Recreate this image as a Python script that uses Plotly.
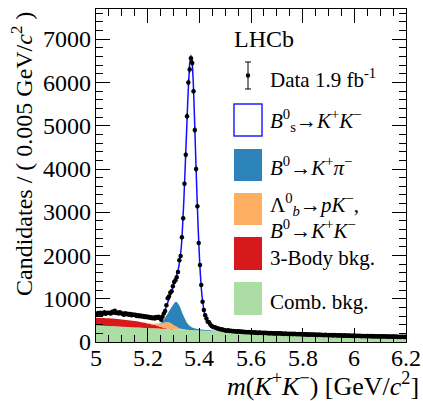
import numpy as np
import plotly.graph_objects as go

# ---------------- data ----------------
bin_low = 5.0
bin_width = 0.005
counts = [
    642, 668, 651, 675, 646, 660, 688, 652, 670, 679,
    672, 660, 698, 684, 722, 668, 681, 657, 689, 664,
    651, 632, 666, 640, 655, 628, 645, 617, 636, 622,
    628, 604, 621, 598, 611, 587, 603, 579, 596, 572,
    585, 561, 574, 552, 568, 545, 579, 558, 585, 548,
    515, 585, 660, 718, 850, 1010, 1050, 1140, 1175, 1290,
    1390, 1430, 1500, 1620, 1890, 1990, 2420, 2860, 3660, 4330,
    5220, 6000, 6300, 6560, 6450, 5800, 4900, 4000, 3140, 2290,
    1780, 1320, 930, 740, 620, 545, 470, 455, 405, 372,
    352, 340, 333, 318, 312, 300, 296, 287, 282, 270,
    268, 262, 270, 255, 258, 248, 252, 241, 247, 238,
    246, 236, 240, 231, 238, 227, 233, 224, 230, 221,
    228, 219, 225, 214, 222, 210, 218, 215, 209, 216,
    206, 212, 204, 210, 199, 207, 201, 196, 205, 198,
    200, 194, 203, 190, 198, 186, 195, 191, 184, 193,
    187, 190, 180, 188, 183, 177, 186, 179, 184, 175,
    181, 174, 179, 170, 177, 168, 175, 172, 165, 173,
    168, 163, 171, 160, 167, 164, 158, 166, 161, 157,
    162, 156, 160, 152, 159, 155, 149, 157, 151, 154,
    150, 147, 154, 145, 151, 142, 149, 146, 140, 148,
    146, 139, 144, 137, 143, 135, 141, 138, 133, 140,
    137, 134, 139, 130, 136, 128, 134, 131, 126, 133,
    130, 127, 133, 125, 131, 122, 128, 126, 121, 129,
    126, 120, 125, 118, 124, 116, 122, 119, 114, 121,
]

fit_x = [
    5.00, 5.05, 5.10, 5.15, 5.20, 5.22, 5.24, 5.25, 5.26, 5.27,
    5.28, 5.29, 5.30, 5.31, 5.32, 5.325, 5.33, 5.335, 5.34, 5.345,
    5.35, 5.355, 5.36, 5.365, 5.37, 5.375, 5.38, 5.385, 5.39, 5.395,
    5.40, 5.405, 5.41, 5.415, 5.42, 5.43, 5.44, 5.46, 5.48, 5.50,
    5.55, 5.60, 5.70, 5.80, 5.90, 6.00, 6.10, 6.20,
]
comb_bkg = [
    390, 372, 355, 338, 322, 316, 311, 308, 305, 302,
    299, 297, 294, 291, 288, 287, 286, 284, 283, 282,
    280, 279, 278, 276, 275, 274, 272, 271, 270, 268,
    267, 266, 264, 263, 262, 259, 257, 252, 248, 243,
    231, 220, 200, 182, 165, 150, 137, 124,
]
three_body = [
    170, 176, 166, 145, 108, 86, 59, 44, 28, 14,
    5, 1, 0, 0, 0, 0, 0, 0, 0, 0,
    0, 0, 0, 0, 0, 0, 0, 0, 0, 0,
    0, 0, 0, 0, 0, 0, 0, 0, 0, 0,
    0, 0, 0, 0, 0, 0, 0, 0,
]
lb_b0kk = [
    0, 0, 0, 2, 8, 20, 50, 75, 108, 138,
    150, 135, 100, 65, 38, 28, 20, 14, 10, 7,
    5, 3, 2, 1, 0, 0, 0, 0, 0, 0,
    0, 0, 0, 0, 0, 0, 0, 0, 0, 0,
    0, 0, 0, 0, 0, 0, 0, 0,
]
b0_kpi = [
    0, 0, 0, 0, 0, 0, 3, 12, 50, 130,
    230, 345, 480, 575, 540, 495, 430, 360, 295, 235,
    180, 140, 108, 85, 68, 56, 47, 40, 35, 31,
    28, 25, 23, 21, 19, 16, 13, 9, 6, 4,
    2, 1, 0, 0, 0, 0, 0, 0,
]
bs_kk = [
    95, 115, 120, 130, 140, 140, 145, 150, 165, 200,
    270, 340, 430, 560, 860, 1120, 1450, 2000, 2680, 3480,
    4300, 5120, 5750, 6150, 6200, 5850, 5100, 4150, 3250, 2400,
    1720, 1180, 800, 560, 390, 220, 130, 65, 38, 24,
    10, 5, 2, 1, 0, 0, 0, 0,
]

x_ticks = [5.0, 5.2, 5.4, 5.6, 5.8, 6.0, 6.2]
x_ticktext = ["5", "5.2", "5.4", "5.6", "5.8", "6", "6.2"]
y_ticks = [0, 1000, 2000, 3000, 4000, 5000, 6000, 7000]
y_ticktext = ["0", "1000", "2000", "3000", "4000", "5000", "6000", "7000"]

# ---------------- derived ----------------
counts_a = np.array(counts, dtype=float)
centres = bin_low + bin_width * (np.arange(len(counts)) + 0.5)
errs = np.sqrt(counts_a)

s1 = np.array(comb_bkg, float)
s2 = s1 + np.array(three_body, float)
s3 = s2 + np.array(lb_b0kk, float)
s4 = s3 + np.array(b0_kpi, float)
total = s4 + np.array(bs_kk, float)

GREEN = "#abdda4"
RED = "#d7191c"
ORANGE = "#fdae61"
BLUE = "#2b83ba"
LINE = "#1010ff"
FONT = "Liberation Serif, Times New Roman, serif"

fig = go.Figure()
for ys, col, fill in [(s1, GREEN, "tozeroy"), (s2, RED, "tonexty"),
                      (s3, ORANGE, "tonexty"), (s4, BLUE, "tonexty")]:
    fig.add_trace(go.Scatter(x=fit_x, y=ys, mode="lines", fill=fill,
                             fillcolor=col, line=dict(width=0, shape="spline", color=col),
                             showlegend=False, hoverinfo="skip"))
fig.add_trace(go.Scatter(x=fit_x, y=total, mode="lines",
                         line=dict(color=LINE, width=1.5, shape="spline"),
                         showlegend=False))
fig.add_trace(go.Scatter(x=centres, y=counts_a, mode="markers",
                         marker=dict(color="black", size=4.5),
                         error_y=dict(type="data", array=errs, width=0,
                                      thickness=1, color="black"),
                         showlegend=False))

# ---------------- layout helpers (pixel -> paper) ----------------
L, R, T, B = 96, 406, 9, 342


def px(x, y):
    return (x - L) / (R - L), (B - y) / (B - T)


shapes = []


def rect(x0, y0, x1, y1, fill, line=None, lw=0):
    a0, b0 = px(x0, y1)
    a1, b1 = px(x1, y0)
    shapes.append(dict(type="rect", xref="paper", yref="paper", x0=a0, x1=a1,
                       y0=b0, y1=b1, fillcolor=fill,
                       line=dict(color=line or fill, width=lw)))


def seg(x0, y0, x1, y1, w=1):
    a0, b0 = px(x0, y0)
    a1, b1 = px(x1, y1)
    shapes.append(dict(type="line", xref="paper", yref="paper", x0=a0, x1=a1,
                       y0=b0, y1=b1, line=dict(color="black", width=w)))


# data legend symbol
seg(248, 62, 248, 89)
seg(245, 62, 251, 62)
seg(245, 89, 251, 89)
c0 = px(245.8, 73.3)
c1 = px(250.2, 77.7)
shapes.append(dict(type="circle", xref="paper", yref="paper", x0=c0[0], x1=c1[0],
                   y0=c1[1], y1=c0[1], fillcolor="black", line=dict(width=0)))

rect(234, 104, 262, 136, "white", line="#2222ff", lw=1.5)
rect(234, 149, 262, 181, BLUE)
rect(234, 193, 262, 225, ORANGE)
rect(234, 237, 262, 270, RED)
rect(234, 282, 262, 315, GREEN)

annotations = []


def text(x, y, s, size=21, xanchor="left", yanchor="middle", angle=0):
    a, b = px(x, y)
    annotations.append(dict(xref="paper", yref="paper", x=a, y=b, text=s,
                            showarrow=False, xanchor=xanchor, yanchor=yanchor,
                            textangle=angle,
                            font=dict(family=FONT, size=size, color="black")))


text(232, 39, "LHCb", size=24)
text(268, 78, "Data 1.9 fb<sup>-1</sup>")
text(268, 121, "<i>B</i><sup>0</sup><sub>s</sub>→<i>K</i><sup>+</sup><i>K</i><sup>−</sup>")
text(268, 166, "<i>B</i><sup>0</sup>→<i>K</i><sup>+</sup><i>π</i><sup>−</sup>")
text(268, 204, "Λ<sup>0</sup><sub><i>b</i></sub>→<i>pK</i><sup>−</sup>,")
text(268, 229, "<i>B</i><sup>0</sup>→<i>K</i><sup>+</sup><i>K</i><sup>−</sup>")
text(268, 258, "3-Body bkg.")
text(268, 302, "Comb. bkg.")
text(22, 10, "Candidates / ( 0.005 GeV/<i>c</i><sup>2</sup> )", size=24,
     xanchor="center", yanchor="top", angle=-90)
text(421, 384, "<i>m</i>(<i>K</i><sup>+</sup><i>K</i><sup>−</sup>) [GeV/<i>c</i><sup>2</sup>]",
     size=26, xanchor="right")

# tick labels, placed through the axes' own scales
for v, t in zip(x_ticks, x_ticktext):
    annotations.append(dict(xref="x", yref="paper", x=v, y=px(0, 358)[1], text=t,
                            showarrow=False, xanchor="center", yanchor="middle",
                            font=dict(family=FONT, size=24, color="black")))
for v, t in zip(y_ticks, y_ticktext):
    annotations.append(dict(xref="paper", yref="y", x=px(93, 0)[0], y=v, text=t,
                            showarrow=False, xanchor="right", yanchor="middle",
                            font=dict(family=FONT, size=24, color="black")))

axis_common = dict(showline=True, linecolor="black", linewidth=1, mirror="ticks",
                   ticks="inside", ticklen=14, tickwidth=1, tickcolor="black",
                   showgrid=False, zeroline=False, showticklabels=False)

fig.update_layout(
    width=423, height=401,
    margin=dict(l=L, r=423 - R, t=T, b=401 - B),
    paper_bgcolor="white", plot_bgcolor="white",
    xaxis=dict(range=[5.0, 6.2], tickvals=x_ticks,
               minor=dict(dtick=0.05, ticks="inside", ticklen=7, tickcolor="black"),
               **axis_common),
    yaxis=dict(range=[0, 7700], tickvals=y_ticks,
               minor=dict(dtick=200, ticks="inside", ticklen=7, tickcolor="black"),
               **axis_common),
    shapes=shapes, annotations=annotations, showlegend=False,
)

fig.write_html("out.html",
               config={"displayModeBar": False},
               post_script="document.body.style.margin='0';"
                           "document.body.style.overflow='hidden';")
